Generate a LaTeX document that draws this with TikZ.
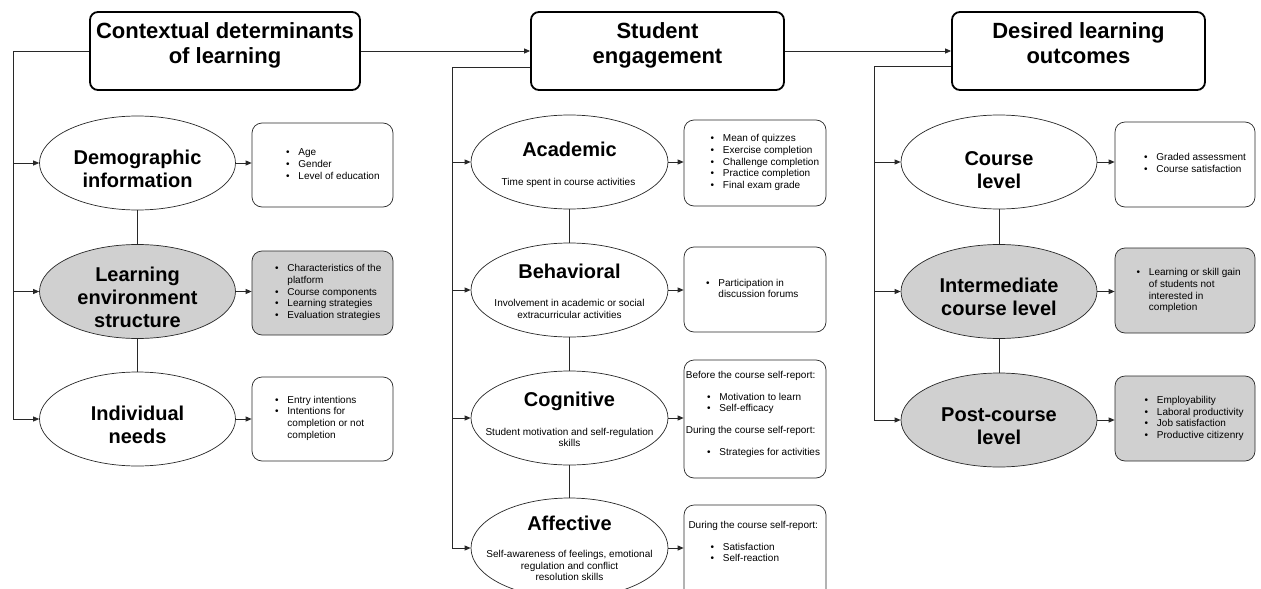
\documentclass[tikz,border=0pt]{standalone}
\usepackage{fontspec}
\setmainfont{Liberation Sans}
\usetikzlibrary{shapes.geometric,arrows.meta}
\definecolor{gfill}{RGB}{208,208,208}
\definecolor{lc}{RGB}{40,40,40}
\newcommand\blist[1]{\begin{tabular}[t]{@{}l@{\hspace{8.75pt}}l@{}}#1\end{tabular}}
\newcommand\itm{\textbullet &}
\begin{document}
\begin{tikzpicture}[x=1pt,y=-1pt,
 hdr/.style={draw=black,line width=1.8pt,rounded corners=8pt,minimum width=270pt,minimum height=78pt,inner sep=0,fill=white},
 htxt/.style={font=\fontsize{22}{25}\selectfont\bfseries,align=center,anchor=base,inner sep=0},
 ell/.style={ellipse,draw=lc,line width=0.7pt,fill=white,minimum width=196pt,minimum height=94pt,inner sep=0},
 gell/.style={ell,fill=gfill},
 ttl/.style={font=\fontsize{20}{23}\selectfont\bfseries,align=center,anchor=base,inner sep=0},
 sub/.style={font=\fontsize{10}{11.7}\selectfont,align=center,anchor=base,inner sep=0},
 tbox/.style={draw=lc,line width=0.7pt,rounded corners=10pt,fill=white,minimum width=141pt,minimum height=84pt,inner sep=0},
 gbox/.style={tbox,fill=gfill},
 lst/.style={font=\fontsize{10}{11.7}\selectfont,anchor=base west,inner sep=0},
 conn/.style={draw=lc,line width=0.8pt},
 arr/.style={conn,-{Triangle[length=6pt,width=5pt]}},
]
\useasboundingbox[fill=white] (0,0) rectangle (1261,589);

% ---------- headers ----------
\node[hdr] (h1) at (225,51) {};
\node[hdr,minimum width=253pt] (h2) at (657.5,51) {};
\node[hdr,minimum width=253pt] (h3) at (1078.5,51) {};
\node[htxt] (h1t) at (225,63.3) {Contextual determinants\\of learning};
\node[htxt] (h2t) at (657.5,63.3) {Student\\engagement};
\node[htxt] (h3t) at (1078.5,63.3) {Desired learning\\outcomes};
\draw[arr] (h1.east) -- (h2.west);
\draw[arr] (h2.east) -- (h3.west);

% ---------- left column ----------
\node[ell] (demo) at (137.5,163) {};
\node[gell] (lenv) at (137.5,291.5) {};
\node[ell] (indiv) at (137.5,419) {};
\draw[conn] (demo.south) -- (lenv.north);
\draw[conn] (lenv.south) -- (indiv.north);
\node[ttl] (demot) at (137.5,187.3) {Demographic\\information};
\node[ttl] (lenvt) at (137.5,327.3) {Learning\\environment\\structure};
\node[ttl] (indivt) at (137.5,443) {Individual\\needs};

\node[tbox] (demob) at (322.5,165) {};
\node[gbox] (lenvb) at (322.5,293) {};
\node[tbox] (indivb) at (322.5,419) {};
\node[lst] (demol) at (286,155.7) {\blist{\itm Age\\ \itm Gender\\ \itm Level of education}};
\node[lst] (lenvl) at (275,271.7) {\blist{\itm Characteristics of the\\ & platform\\ \itm Course components\\ \itm Learning strategies\\ \itm Evaluation strategies}};
\node[lst] (indivl) at (275,403) {\blist{\itm Entry intentions\\ \itm Intentions for\\ & completion or not\\ & completion}};
\draw[arr] (demo.east) -- (demob.west |- demo.east);
\draw[arr] (lenv.east) -- (lenvb.west |- lenv.east);
\draw[arr] (indiv.east) -- (indivb.west |- indiv.east);

\coordinate (t1a) at (13,51);
\coordinate (t1b) at (13,419);
\draw[conn] (h1.west) -- (t1a) -- (t1b);
\draw[arr] (t1a |- demo.west) -- (demo.west);
\draw[arr] (t1a |- lenv.west) -- (lenv.west);
\draw[arr] (t1a |- indiv.west) -- (indiv.west);

% ---------- middle column ----------
\node[ell,minimum width=197pt] (acad) at (569.5,162) {};
\node[ell,minimum width=197pt] (behav) at (569.5,290) {};
\node[ell,minimum width=197pt] (cogn) at (569.5,418) {};
\node[ell,minimum width=197pt,minimum height=100pt] (affe) at (569.5,548) {};
\draw[conn] (acad.south) -- (behav.north);
\draw[conn] (behav.south) -- (cogn.north);
\draw[conn] (cogn.south) -- (affe.north);
\node[ttl] (acadt) at (569.5,156.7) {Academic};
\node[sub] (acads) at (568.5,185) {Time spent in course activities};
\node[ttl] (behavt) at (569.5,278) {Behavioral};
\node[sub] (behavs) at (569.5,318.3) {Involvement in academic or social\\extracurricular activities};
\node[ttl] (cognt) at (569.5,406.7) {Cognitive};
\node[sub] (cogns) at (569.5,446.7) {Student motivation and self-regulation\\skills};
\node[ttl] (affet) at (569.5,530) {Affective};
\node[sub] (affes) at (569.5,580.7) {Self-awareness of feelings, emotional\\regulation and conflict\\resolution skills};

\node[tbox,minimum width=142pt,minimum height=86pt] (acadb) at (755,163) {};
\node[tbox,minimum width=142pt,minimum height=85pt] (behavb) at (755,289.5) {};
\node[tbox,minimum width=142pt,minimum height=118pt] (cognb) at (755,419) {};
\node[tbox,minimum width=142pt,minimum height=100pt] (affeb) at (755,555) {};
\node[lst] (acadl) at (710.5,141.7) {\blist{\itm Mean of quizzes\\ \itm Exercise completion\\ \itm Challenge completion\\ \itm Practice completion\\ \itm Final exam grade}};
\node[lst] (behavl) at (706,286) {\blist{\itm Participation in\\ & discussion forums}};
\node[lst] (cognh1) at (685.7,378.3) {Before the course self-report:};
\node[lst] (cognl1) at (707,400) {\blist{\itm Motivation to learn\\ \itm Self-efficacy}};
\node[lst] (cognh2) at (685.7,433.3) {During the course self-report:};
\node[lst] (cognl2) at (707,455.7) {\blist{\itm Strategies for activities}};
\node[lst] (affeh) at (688.3,528.3) {During the course self-report:};
\node[lst] (affel) at (710.5,550) {\blist{\itm Satisfaction\\ \itm Self-reaction}};
\draw[arr] (acad.east) -- (acadb.west |- acad.east);
\draw[arr] (behav.east) -- (behavb.west |- behav.east);
\draw[arr] (cogn.east) -- (cognb.west |- cogn.east);
\draw[arr] (affe.east) -- (affeb.west |- affe.east);

\coordinate (t2a) at (452,67);
\coordinate (t2b) at (452,548);
\draw[conn] ([yshift=-16pt]h2.west) -- (t2a) -- (t2b);
\draw[arr] (t2a |- acad.west) -- (acad.west);
\draw[arr] (t2a |- behav.west) -- (behav.west);
\draw[arr] (t2a |- cogn.west) -- (cogn.west);
\draw[arr] (t2a |- affe.west) -- (affe.west);

% ---------- right column ----------
\node[ell] (crs) at (999,162) {};
\node[gell] (inter) at (999,291.5) {};
\node[gell] (post) at (999,420) {};
\draw[conn] (crs.south) -- (inter.north);
\draw[conn] (inter.south) -- (post.north);
\node[ttl] (crst) at (999,188.3) {Course\\level};
\node[ttl] (intert) at (999,315.7) {Intermediate\\course level};
\node[ttl] (postt) at (999,444.3) {Post-course\\level};

\node[tbox,minimum width=140pt,minimum height=85pt] (crsb) at (1185,164.5) {};
\node[gbox,minimum width=140pt,minimum height=85pt] (interb) at (1185,290.5) {};
\node[gbox,minimum width=140pt,minimum height=85pt] (postb) at (1185,418.5) {};
\node[lst] (crsl) at (1144,160.7) {\blist{\itm Graded assessment\\ \itm Course satisfaction}};
\node[lst] (interl) at (1136.5,275.7) {\blist{\itm Learning or skill gain\\ & of students not\\ & interested in\\ & completion}};
\node[lst] (postl) at (1144.5,403.3) {\blist{\itm Employability\\ \itm Laboral productivity\\ \itm Job satisfaction\\ \itm Productive citizenry}};
\draw[arr] (crs.east) -- (crsb.west |- crs.east);
\draw[arr] (inter.east) -- (interb.west |- inter.east);
\draw[arr] (post.east) -- (postb.west |- post.east);

\coordinate (t3a) at (874,66);
\coordinate (t3b) at (874,420);
\draw[conn] ([yshift=-15pt]h3.west) -- (t3a) -- (t3b);
\draw[arr] (t3a |- crs.west) -- (crs.west);
\draw[arr] (t3a |- inter.west) -- (inter.west);
\draw[arr] (t3a |- post.west) -- (post.west);
\end{tikzpicture}
\end{document}
